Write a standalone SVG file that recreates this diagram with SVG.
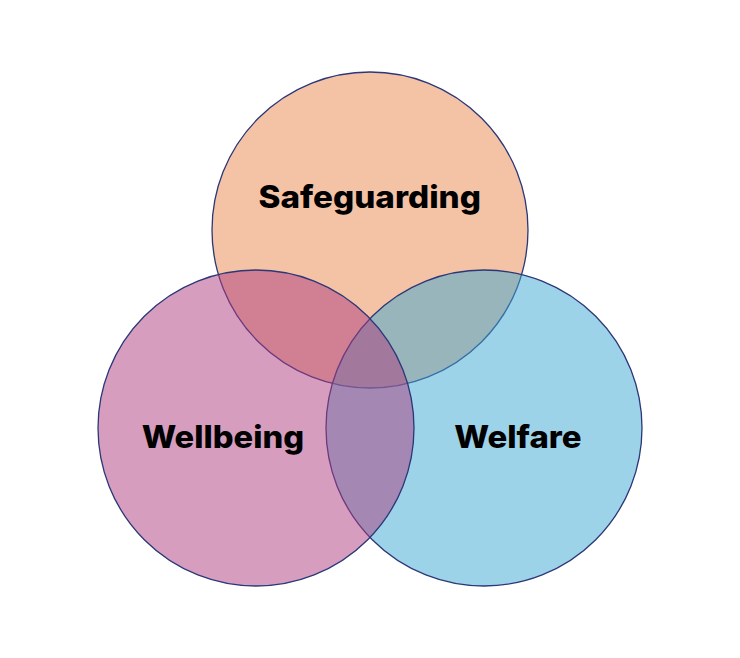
<svg xmlns="http://www.w3.org/2000/svg" width="740" height="658" viewBox="0 0 740 658">
  <style>
    .c { stroke: #2B3778; stroke-width: 1.3; }
    .lbl { font-family: Inter, "DejaVu Sans", "Liberation Sans", sans-serif; font-weight: 800; font-size: 31px; fill: #000000; text-anchor: middle; }
  </style>
  <rect width="740" height="658" fill="#FFFFFF"/>
  <g id="safeguarding">
    <circle class="c" cx="370" cy="230" r="158" fill="rgba(233,133,75,0.5)"/>
  </g>
  <g id="welfare">
    <circle class="c" cx="484" cy="428" r="158" fill="rgba(59,167,209,0.5)"/>
  </g>
  <g id="wellbeing">
    <circle class="c" cx="256" cy="428" r="158" fill="rgba(173,59,127,0.5)"/>
  </g>
  <g id="labels">
    <text class="lbl" x="369.7" y="207.5" textLength="222.5" lengthAdjust="spacingAndGlyphs">Safeguarding</text>
    <text class="lbl" x="222.9" y="447.7" textLength="162.5" lengthAdjust="spacingAndGlyphs">Wellbeing</text>
    <text class="lbl" x="517.9" y="447.7" textLength="127.5" lengthAdjust="spacingAndGlyphs">Welfare</text>
  </g>
  <g id="connectors"></g>
</svg>
